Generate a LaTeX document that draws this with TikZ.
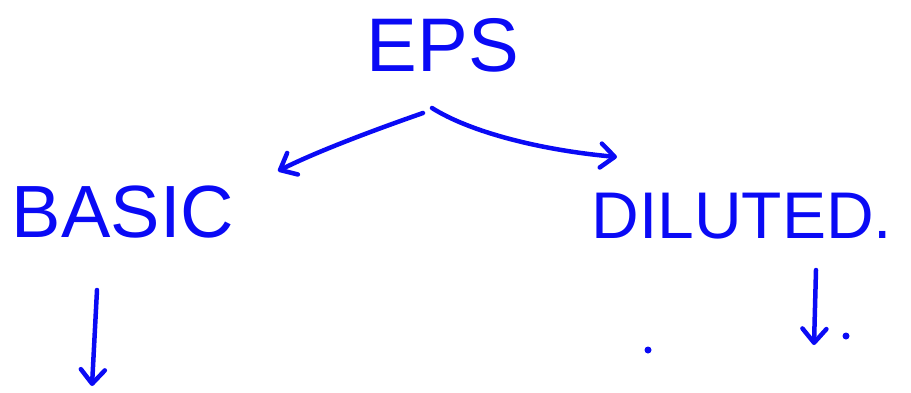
\documentclass[tikz,border=0pt]{standalone}
\usepackage{fontspec}
\setmainfont{Liberation Sans}
\usetikzlibrary{arrows.meta}
\definecolor{ink}{RGB}{10,10,245}
\begin{document}
\begin{tikzpicture}[x=1pt,y=-1pt,
  word/.style={text=ink, inner sep=0pt, anchor=center},
  pen/.style={draw=ink, line width=4.5pt, line cap=round, line join=round,
    -{Straight Barb[length=14pt,width=24pt,round]}},
  blot/.style={fill=ink, circle, inner sep=0pt, minimum size=7pt}]
\useasboundingbox (0,0) rectangle (911,392);
\node[word, font=\fontsize{76}{80}\selectfont] (eps) at (443,45) {EPS};
\node[word, font=\fontsize{74}{80}\selectfont] (basic) at (123,212) {BASIC};
\node[word, font=\fontsize{66}{72}\selectfont] (diluted) at (742,216) {DILUTED.};
\coordinate (epsL) at (423,113);
\coordinate (epsR) at (432,108);
\coordinate (tipL) at (278,171);
\coordinate (tipR) at (617,157);
\draw[pen] (epsL) .. controls (380,128) and (320,150) .. (tipL);
\draw[pen] (epsR) .. controls (470,132) and (540,150) .. (tipR);
\coordinate (bTop) at (97,290);
\coordinate (bBot) at (92,386);
\coordinate (dTop) at (816,270);
\coordinate (dBot) at (814,345);
\draw[pen] (bTop) -- (bBot);
\draw[pen] (dTop) -- (dBot);
\node[blot] (dot1) at (648,350) {};
\node[blot] (dot2) at (846,336) {};
\end{tikzpicture}
\end{document}
